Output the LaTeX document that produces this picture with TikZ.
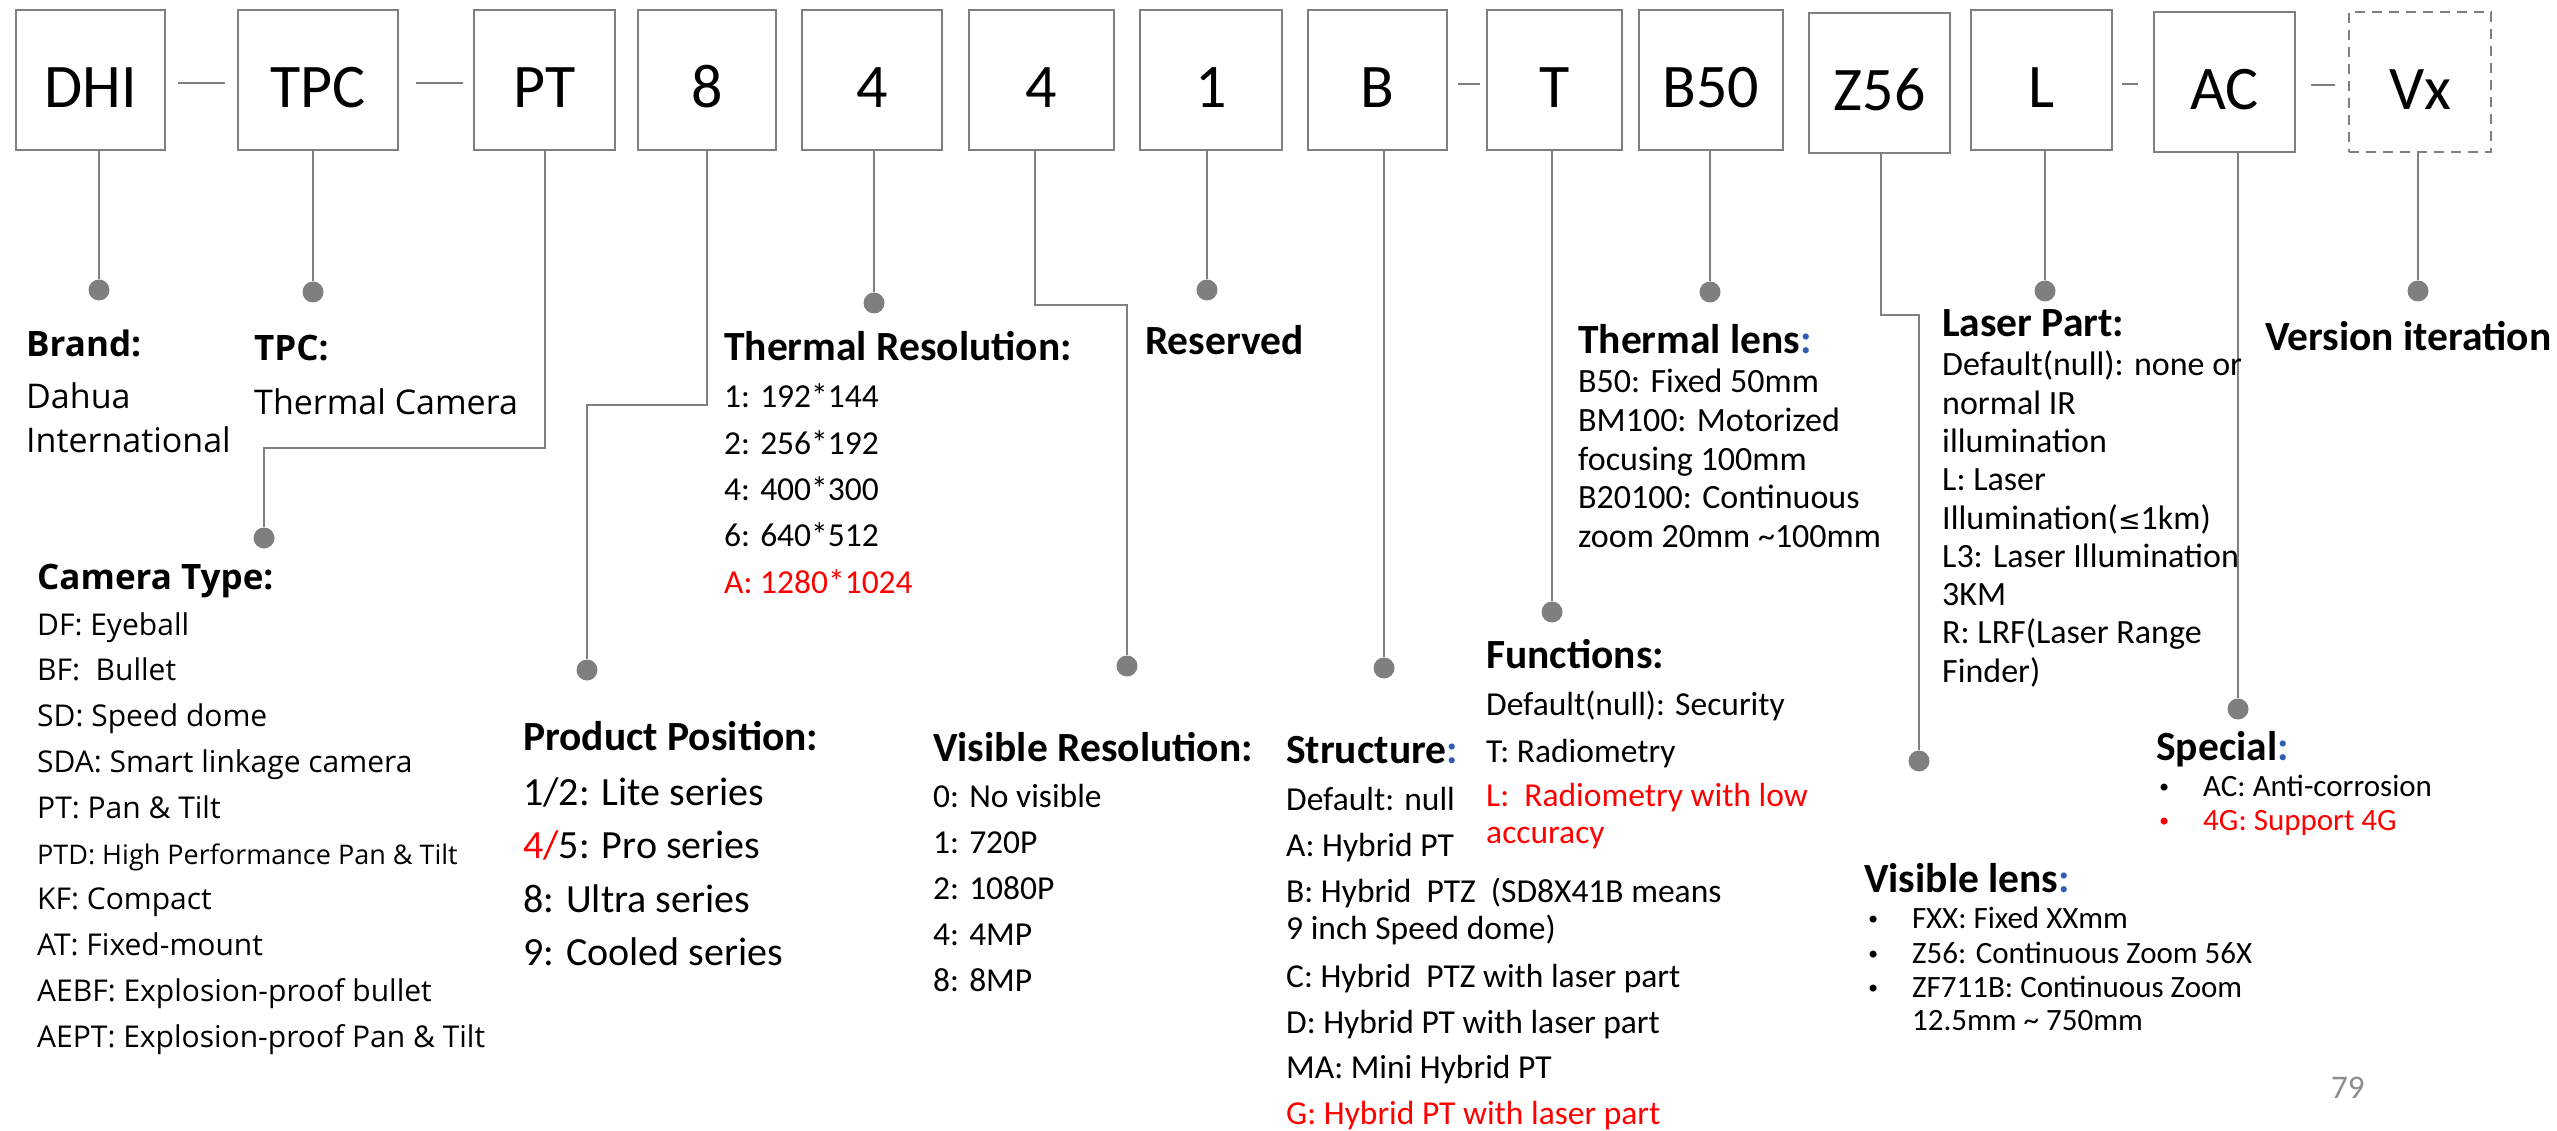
\documentclass[tikz,border=0pt]{standalone}
\usepackage{fontspec}
\setmainfont{Carlito}
\newfontfamily\osans{Open Sans}
\newfontfamily\djv{DejaVu Sans}
\definecolor{linegray}{HTML}{7F7F7F}
\definecolor{accblue}{HTML}{2F5DB3}
\definecolor{pnum}{HTML}{8C8C8C}
\begin{document}
\begin{tikzpicture}[x=1pt,y=-1pt,
  box/.style={draw=linegray, line width=2pt, minimum height=140pt, inner sep=0pt,
              text height=60pt, text depth=4pt, font=\fontsize{62}{70}\selectfont},
  conn/.style={draw=linegray, line width=2pt},
  dot/.style={circle, fill=linegray, minimum size=21pt, inner sep=0pt},
  txt/.style={anchor=base west, inner sep=0pt},
  head/.style={txt, font=\fontsize{41.5}{49}\selectfont\bfseries},
  item/.style={txt, font=\fontsize{33.5}{40}\selectfont},
  ppitem/.style={txt, font=\fontsize{40}{48}\selectfont},
  lensitem/.style={txt, font=\fontsize{34}{40}\selectfont},
  smitem/.style={txt, font=\fontsize{31}{37}\selectfont},
  bul/.style={txt, font=\djv\fontsize{24}{30}\selectfont},
  oshead/.style={txt, font=\osans\fontsize{35}{42}\selectfont\bfseries},
  ositem/.style={txt, font=\osans\fontsize{34}{40}\selectfont},
  camitem/.style={txt, font=\osans\fontsize{30}{36}\selectfont}]
\useasboundingbox (0,0) rectangle (2557,1131);

% ---------- code boxes ----------
\node[box, minimum width=149pt] (dhi) at (90.5,80) {DHI};
\node[box, minimum width=160pt] (tpc) at (318,80) {TPC};
\node[box, minimum width=141pt] (pt) at (544.5,80) {PT};
\node[box, minimum width=138pt] (b8) at (707,80) {8};
\node[box, minimum width=140pt] (b4a) at (872,80) {4};
\node[box, minimum width=145pt] (b4b) at (1041.5,80) {4};
\node[box, minimum width=142pt] (b1) at (1211,80) {1};
\node[box, minimum width=139pt] (bb) at (1377.5,80) {B};
\node[box, minimum width=135pt] (bt) at (1554.5,80) {T};
\node[box, minimum width=144pt] (b50) at (1711,80) {B50};
\node[box, minimum width=141pt] (z56) at (1879.5,83) {Z56};
\node[box, minimum width=141pt] (bl) at (2041.5,80) {L};
\node[box, minimum width=141pt] (ac) at (2224.5,82) {AC};
\node[box, minimum width=142pt, dash pattern=on 10pt off 7pt] (vx) at (2420,82) {Vx};

% ---------- dashes between boxes ----------
\draw[conn, shorten <=12pt, shorten >=12pt] ([yshift=-3pt]dhi.east) -- ([yshift=-3pt]tpc.west);
\draw[conn, shorten <=17pt, shorten >=10pt] ([yshift=-3pt]tpc.east) -- ([yshift=-3pt]pt.west);
\draw[conn, shorten <=10pt, shorten >=6pt] ([yshift=-4pt]bb.east) -- ([yshift=-4pt]bt.west);
\draw[conn, shorten <=9pt, shorten >=15pt] ([yshift=-4pt]bl.east) -- ([yshift=-2pt]ac.west);
\draw[conn, shorten <=15pt, shorten >=13pt] ([yshift=-3pt]ac.east) -- ([yshift=-3pt]vx.west);

% ---------- dots ----------
\node[dot] (ddhi) at (99,290) {};
\node[dot] (dtpc) at (313,292) {};
\node[dot] (dpt) at (264,538) {};
\node[dot] (d8) at (587,670) {};
\node[dot] (d4a) at (874,303) {};
\node[dot] (d4b) at (1127,666) {};
\node[dot] (d1) at (1207,290) {};
\node[dot] (dB) at (1384,668) {};
\node[dot] (dT) at (1552,612) {};
\node[dot] (d50) at (1710,292) {};
\node[dot] (dz) at (1919,761) {};
\node[dot] (dL) at (2045,291) {};
\node[dot] (dac) at (2238,709) {};
\node[dot] (dvx) at (2418,291) {};

\coordinate (kpt) at (545,448);
\coordinate (k8) at (707,405);
\coordinate (k4b) at (1035,305);
\coordinate (kz) at (1881,315);

% ---------- connectors ----------
\draw[conn] (dhi.south -| ddhi) -- (ddhi);
\draw[conn] (tpc.south -| dtpc) -- (dtpc);
\draw[conn] (pt.south -| kpt) -- (kpt) -| (dpt);
\draw[conn] (b8.south -| k8) -- (k8) -| (d8);
\draw[conn] (b4a.south -| d4a) -- (d4a);
\draw[conn] (b4b.south -| k4b) -- (k4b) -| (d4b);
\draw[conn] (b1.south -| d1) -- (d1);
\draw[conn] (bb.south -| dB) -- (dB);
\draw[conn] (bt.south -| dT) -- (dT);
\draw[conn] (b50.south -| d50) -- (d50);
\draw[conn] (z56.south -| kz) -- (kz) -| (dz);
\draw[conn] (bl.south -| dL) -- (dL);
\draw[conn] (ac.south -| dac) -- (dac);
\draw[conn] (vx.south -| dvx) -- (dvx);

% ---------- Brand / TPC ----------
\node[oshead] (brandh) at (26,357) {Brand:};
\node[ositem] (brand1) at (26,409) {Dahua};
\node[ositem] (brand2) at (26,453) {International};
\node[oshead] (tpch) at (254,361) {TPC:};
\node[ositem] (tpc1) at (254,414) {Thermal Camera};

% ---------- Camera Type ----------
\node[oshead] (camh) at (37,589) {Camera Type:};
\foreach \t [count=\i] in {DF: Eyeball, BF:\ \ Bullet, SD: Speed dome, SDA: Smart linkage camera,
  PT: Pan \& Tilt, {\fontsize{27}{32}\selectfont PTD: High Performance Pan \& Tilt}, KF: Compact,
  AT: Fixed-mount, AEBF: Explosion-proof bullet, AEPT: Explosion-proof Pan \& Tilt}
  \node[camitem] (cam\i) at (37,{635+45.8*(\i-1)}) {\t};

% ---------- Product Position ----------
\node[head] (pph) at (523,750) {Product Position:};
\node[ppitem] (pp1) at (523,805) {1/2: Lite series};
\node[ppitem] (pp2) at (523,858) {{\color{red}4/}5: Pro series};
\node[ppitem] (pp3) at (523,912) {8: Ultra series};
\node[ppitem] (pp4) at (523,965) {9: Cooled series};

% ---------- Thermal Resolution ----------
\node[head] (trh) at (724,361) {Thermal Resolution:};
\foreach \t [count=\i] in {1: 192*144, 2: 256*192, 4: 400*300, 6: 640*512, {\color{red}A: 1280*1024}}
  \node[item] (tr\i) at (724,{408+46.25*(\i-1)}) {\t};

% ---------- Reserved ----------
\node[head] (res) at (1145,355) {Reserved};

% ---------- Visible Resolution ----------
\node[head] (vrh) at (933,761) {Visible Resolution:};
\foreach \t [count=\i] in {0: No visible, 1: 720P, 2: 1080P, 4: 4MP, 8: 8MP}
  \node[item] (vr\i) at (933,{807+46*(\i-1)}) {\t};

% ---------- Structure ----------
\node[head] (sth) at (1286,763) {Structure{\color{accblue}:}};
\foreach \y/\t [count=\i] in {810/Default: null, 856/A: Hybrid PT,
  902/B: Hybrid\ \ PTZ\ \ (SD8X41B means, 939/9 inch Speed dome),
  987/C: Hybrid\ \ PTZ with laser part, 1033/D: Hybrid PT with laser part,
  1078/MA: Mini Hybrid PT, 1124/{\color{red}G: Hybrid PT with laser part}}
  \node[item] (st\i) at (1286,\y) {\t};

% ---------- Functions ----------
\node[head] (fnh) at (1486,668) {Functions:};
\node[item] (fn1) at (1486,715) {Default(null): Security};
\node[item] (fn2) at (1486,762) {T: Radiometry};
\node[item, text=red] (fn3) at (1486,806) {L:\ \ Radiometry with low};
\node[item, text=red] (fn4) at (1486,843) {accuracy};

% ---------- Thermal lens ----------
\node[head] (tlh) at (1578,354) {Thermal lens{\color{accblue}:}};
\foreach \t [count=\i] in {B50: Fixed 50mm, BM100: Motorized, focusing 100mm,
  B20100: Continuous, zoom 20mm \textasciitilde100mm}
  \node[lensitem] (tl\i) at (1578,{393+38.5*(\i-1)}) {\t};

% ---------- Laser Part ----------
\node[head] (lph) at (1942,337) {Laser Part:};
\foreach \t [count=\i] in {Default(null): none or, normal IR, illumination, L: Laser,
  {Illumination({\djv\fontsize{27}{32}\selectfont ≤}1km)}, L3: Laser Illumination, 3KM,
  R: LRF(Laser Range, Finder)}
  \node[lensitem] (lp\i) at (1942,{376+38.25*(\i-1)}) {\t};

% ---------- Version iteration ----------
\node[head] (ver) at (2265,351) {Version iteration};

% ---------- Special ----------
\node[head] (sph) at (2156,760) {Special{\color{accblue}:}};
\node[bul] (spb1) at (2157,796) {•};
\node[smitem] (sp1) at (2203,796) {AC: Anti-corrosion};
\node[bul, text=red] (spb2) at (2157,830) {•};
\node[smitem, text=red] (sp2) at (2203,830) {4G: Support 4G};

% ---------- Visible lens ----------
\node[head] (vlh) at (1864,892) {Visible lens{\color{accblue}:}};
\node[bul] (vlb1) at (1866,928) {•};
\node[bul] (vlb2) at (1866,963) {•};
\node[bul] (vlb3) at (1866,997) {•};
\node[smitem] (vl1) at (1912,928) {FXX: Fixed XXmm};
\node[smitem] (vl2) at (1912,963) {Z56: Continuous Zoom 56X};
\node[smitem] (vl3) at (1912,997) {ZF711B: Continuous Zoom};
\node[smitem] (vl4) at (1912,1030) {12.5mm \textasciitilde\ 750mm};

% ---------- page number ----------
\node[txt, text=pnum, font=\fontsize{33}{40}\selectfont] (pg) at (2331,1098) {79};
\end{tikzpicture}
\end{document}
